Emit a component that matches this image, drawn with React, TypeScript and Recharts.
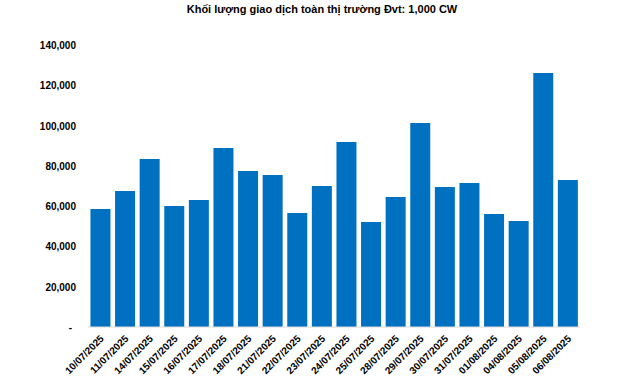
import React from 'react';
import { BarChart, Bar, XAxis, YAxis } from 'recharts';

const categories = [
  '10/07/2025', '11/07/2025', '14/07/2025', '15/07/2025', '16/07/2025',
  '17/07/2025', '18/07/2025', '21/07/2025', '22/07/2025', '23/07/2025',
  '24/07/2025', '25/07/2025', '28/07/2025', '29/07/2025', '30/07/2025',
  '31/07/2025', '01/08/2025', '04/08/2025', '05/08/2025', '06/08/2025',
];
const volumes = [
  58600, 67500, 83400, 60100, 63100,
  88900, 77500, 75500, 56600, 70000,
  91900, 52100, 64600, 101300, 69500,
  71500, 56100, 52600, 126100, 73000,
];
const yTicks = [0, 20000, 40000, 60000, 80000, 100000, 120000, 140000];
const title = 'Khối lượng giao dịch toàn thị trường Đvt: 1,000 CW';

const data = categories.map((d, i) => ({ date: d, value: volumes[i] }));

const FONT = '"Liberation Sans", Arial, sans-serif';

const XTick = (props: any) => {
  const { x, payload } = props;
  const y = props.y + 4;
  return (
    <text
      x={x}
      y={y}
      transform={`rotate(-45, ${x}, ${y})`}
      textAnchor="end"
      dy={6}
      fontSize={10}
      fontWeight="bold"
      fontFamily={FONT}
      fill="#000"
    >
      {payload.value}
    </text>
  );
};

const YTick = (props: any) => {
  const { x, y, payload } = props;
  const v = payload.value as number;
  const label = v === 0 ? '-' : v.toLocaleString('en-US');
  return (
    <text
      x={v === 0 ? x - 4 : x}
      y={y}
      dy={4}
      textAnchor="end"
      fontSize={10}
      fontWeight="bold"
      fontFamily={FONT}
      fill="#000"
    >
      {label}
    </text>
  );
};

export default function App() {
  return (
    <div style={{ position: 'absolute', left: 0, top: 0, width: 640, height: 382, background: '#fff' }}>
      <BarChart
        width={640}
        height={382}
        data={data}
        margin={{ top: 45, right: 60, bottom: 0, left: 0 }}
        barCategoryGap="10%"
      >
        <text
          x={322}
          y={13}
          textAnchor="middle"
          fontSize={11}
          fontWeight="bold"
          fontFamily={FONT}
          fill="#000"
        >
          {title}
        </text>
        <XAxis
          dataKey="date"
          height={55}
          interval={0}
          tickLine={false}
          axisLine={{ stroke: '#D9D9D9', strokeWidth: 1 }}
          tick={<XTick />}
          tickSize={0}
          tickMargin={4}
        />
        <YAxis
          width={88}
          domain={[0, 140000]}
          ticks={yTicks}
          axisLine={false}
          tickLine={false}
          tickSize={0}
          tickMargin={12}
          tick={<YTick />}
          interval={0}
        />
        <Bar dataKey="value" fill="#0070C0" isAnimationActive={false} />
      </BarChart>
    </div>
  );
}
